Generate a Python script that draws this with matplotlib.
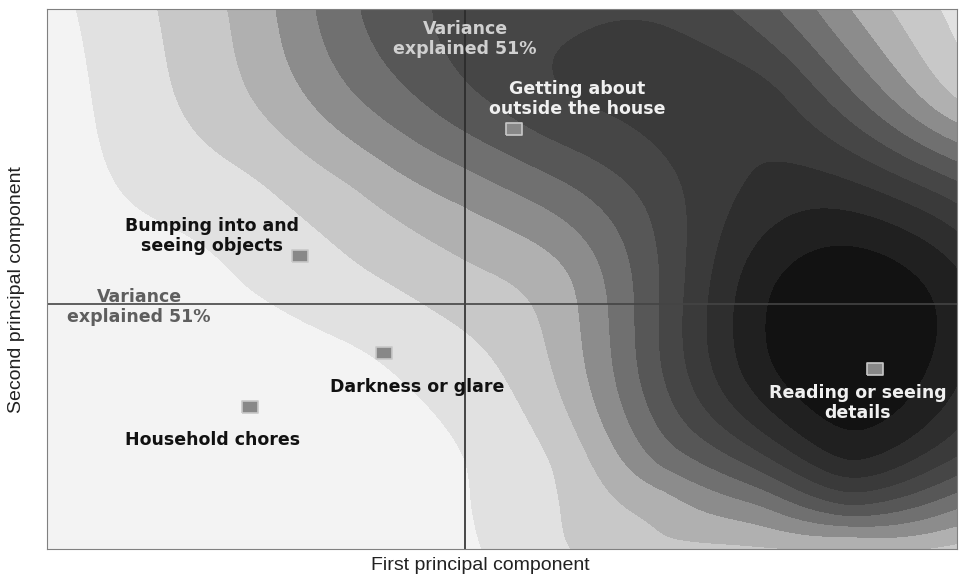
import numpy as np
import matplotlib.pyplot as plt
from matplotlib.path import Path

plt.rcParams['font.family'] = ['Liberation Sans', 'DejaVu Sans']

# items placed on the first two principal components
items = ["Getting about\noutside the house", "Bumping into and\nseeing objects",
         "Darkness or glare", "Household chores", "Reading or seeing\ndetails"]
pc1 = [0.49, -1.65, -0.81, -2.15, 4.10]
pc2 = [1.75, 0.48, -0.49, -1.03, -0.65]

# shaded density surface, band level on a coarse grid
grid_x = [-4.18, -3.15, -2.15, -1.15, 0.0, 0.95, 1.95, 2.95, 3.85, 4.92]
grid_y = [2.95, 2.04, 1.14, 0.24, -0.66, -1.56, -2.01, -2.45]
grid_z = [
    [0.7, 1.9, 3.4, 5.8, 7.3, 7.7, 7.8, 6.4, 4.0, 1.7],
    [0.5, 1.7, 2.95, 4.8, 6.7, 7.9, 8.4, 8.5, 6.3, 3.0],
    [0.4, 1.25, 1.8, 2.9, 4.4, 5.7, 7.5, 9.2, 9.3, 7.4],
    [0.2, 0.4, 1.07, 1.75, 2.7, 3.7, 7.0, 10.6, 11.7, 10.2],
    [0.1, 0.2, 0.45, 0.75, 1.6, 3.2, 6.9, 10.6, 11.8, 10.2],
    [0.0, 0.05, 0.15, 0.45, 1.0, 2.2, 5.2, 7.6, 10.0, 7.8],
    [0.0, 0.0, 0.1, 0.3, 0.95, 2.0, 3.4, 5.0, 7.0, 5.2],
    [0.0, 0.0, 0.05, 0.25, 0.85, 1.9, 2.8, 2.9, 2.9, 2.7],
]

# one grey per band, light to dark
shades = ['#f3f3f3', '#e1e1e1', '#c8c8c8', '#b0b0b0', '#8c8c8c', '#707070',
          '#575757', '#464646', '#3a3a3a', '#2e2e2e', '#202020', '#121212']

xlim = (-4.18, 4.92)
ylim = (-2.45, 2.95)


def tps(r2):
    # thin plate spline kernel r^2 log r, written on r^2
    with np.errstate(divide='ignore', invalid='ignore'):
        out = 0.5 * r2 * np.log(r2)
    return np.nan_to_num(out)


# smooth surface through the grid readings (thin plate spline)
gx, gy = np.meshgrid(grid_x, grid_y)
px, py, pz = gx.ravel(), gy.ravel(), np.array(grid_z).ravel()
n = len(pz)
K = tps((px[:, None] - px[None, :]) ** 2 + (py[:, None] - py[None, :]) ** 2)
K += 0.02 * np.eye(n)
P = np.column_stack([np.ones(n), px, py])
A = np.block([[K, P], [P.T, np.zeros((3, 3))]])
sol = np.linalg.solve(A, np.concatenate([pz, np.zeros(3)]))
w, a = sol[:n], sol[n:]

fx, fy = np.meshgrid(np.linspace(*xlim, 600), np.linspace(*ylim, 360))
fz = a[0] + a[1] * fx + a[2] * fy
for xi, yi, wi in zip(px, py, w):
    fz += wi * tps((fx - xi) ** 2 + (fy - yi) ** 2)

levels = [-100] + list(range(1, len(shades))) + [100]

fig = plt.figure(figsize=(9.59, 5.83), dpi=100)
ax = fig.add_axes([47 / 959, 34 / 583, 910 / 959, 540 / 583])
ax.contourf(fx, fy, fz, levels=levels, colors=shades)

ax.axvline(0, color='#2a2a2a', lw=1.2)
ax.axhline(0, color='#444444', lw=1.2)

rect = Path([(-1.3, -1), (1.3, -1), (1.3, 1), (-1.3, 1), (-1.3, -1)])
ax.plot(pc1, pc2, ls='none', marker=rect, ms=12, mfc='#888888', mec='#c8c8c8', mew=1.2)

bold = dict(fontsize=12.5, fontweight='bold', family='DejaVu Sans',
            ha='center', va='center', linespacing=1.2)
ax.text(0.0, 2.65, "Variance\nexplained 51%", color='#d0d0d0', **bold)
ax.text(-3.26, -0.03, "Variance\nexplained 51%", color='#5e5e5e', **bold)
ax.text(1.12, 2.05, items[0], color='#f0f0f0', **bold)
ax.text(-2.53, 0.68, items[1], color='#111111', **bold)
ax.text(-0.48, -0.83, items[2], color='#111111', **bold)
ax.text(-2.52, -1.36, items[3], color='#111111', **bold)
ax.text(3.93, -0.99, items[4], color='#f0f0f0', **bold)

ax.set_xlim(*xlim)
ax.set_ylim(*ylim)
ax.set_xticks([])
ax.set_yticks([])
for s in ax.spines.values():
    s.set_color('#808080')

fig.text(480 / 959, 1 - 566 / 583, "First principal component", fontsize=14,
         ha='center', va='center', color='#222222')
fig.text(17 / 959, 1 - 290 / 583, "Second principal component", fontsize=14,
         ha='center', va='center', rotation=90, color='#222222')

fig.savefig('out.png', dpi=100)
